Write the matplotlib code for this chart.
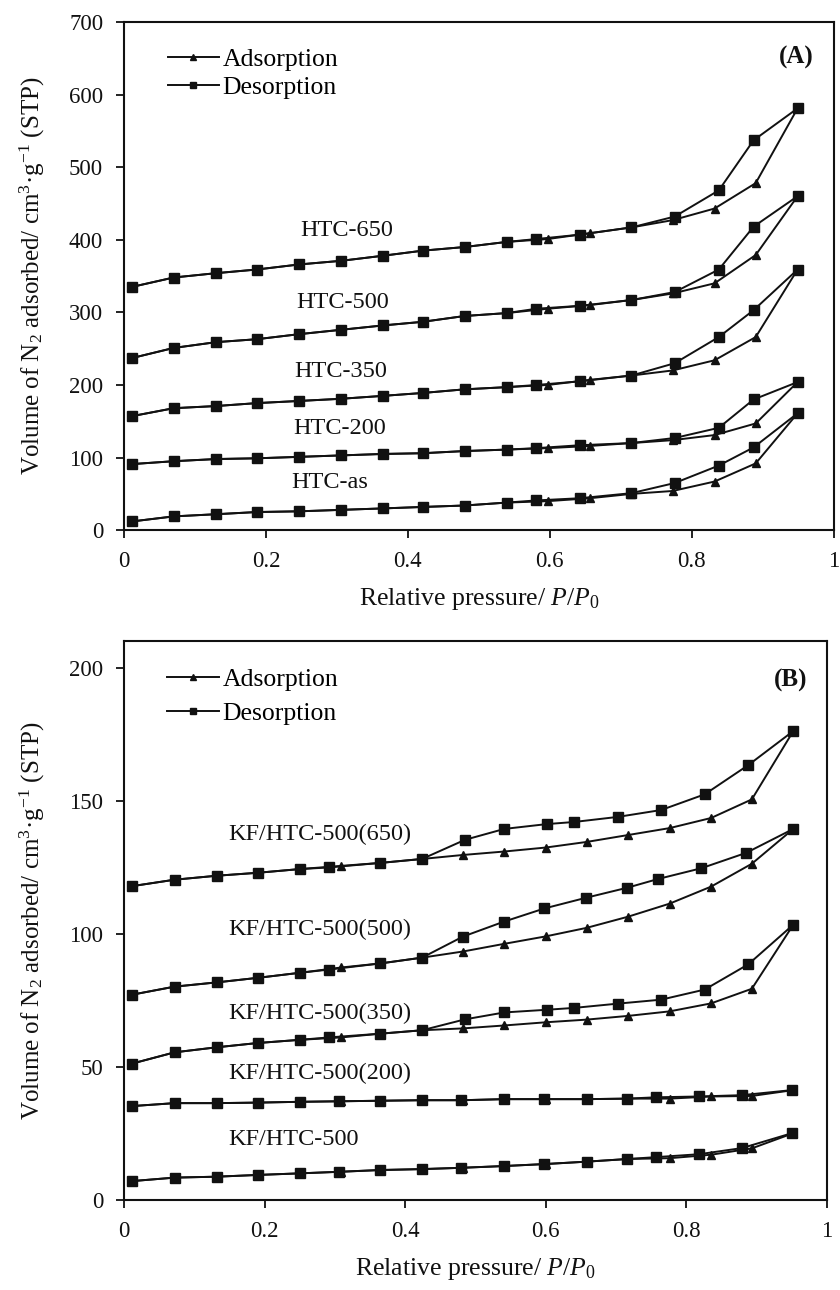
import matplotlib
matplotlib.use("Agg")
from matplotlib import pyplot as plt

plt.rcParams['font.family'] = ['Liberation Serif', 'DejaVu Serif']
plt.rcParams['mathtext.fontset'] = 'custom'
plt.rcParams['mathtext.rm'] = 'Liberation Serif'
plt.rcParams['mathtext.it'] = 'Liberation Serif:italic'

# ---- Panel A data (HTC samples) ----
p_ads_A = [0.011, 0.07, 0.13, 0.187, 0.247, 0.306, 0.365, 0.421, 0.48, 0.539,
           0.597, 0.656, 0.715, 0.773, 0.832, 0.89, 0.949]
p_des_A = [0.949, 0.887, 0.838, 0.776, 0.715, 0.642, 0.581, 0.539, 0.48, 0.421,
           0.365, 0.306, 0.247, 0.187, 0.13, 0.07, 0.011]

htc_as_ads = [12, 19, 22, 25, 26, 28, 30, 32, 34, 38, 40, 44, 50, 54, 67, 92, 161]
htc_as_des = [161, 114, 89, 65, 51, 44, 41, 38, 34, 32, 30, 28, 26, 25, 22, 19, 12]
htc200_ads = [91, 95, 98, 99, 101, 103, 105, 106, 109, 111, 113, 116, 120, 124, 131, 147, 204]
htc200_des = [204, 180, 141, 127, 120, 117, 113, 111, 109, 106, 105, 103, 101, 99, 98, 95, 91]
htc350_ads = [157, 168, 171, 175, 178, 181, 185, 189, 194, 197, 200, 207, 213, 220, 234, 266, 359]
htc350_des = [359, 303, 266, 230, 213, 205, 200, 197, 194, 189, 185, 181, 178, 175, 171, 168, 157]
htc500_ads = [237, 251, 259, 263, 270, 276, 282, 287, 295, 299, 305, 310, 317, 326, 340, 379, 460]
htc500_des = [460, 418, 359, 328, 317, 309, 305, 299, 295, 287, 282, 276, 270, 263, 259, 251, 237]
htc650_ads = [335, 348, 354, 359, 366, 371, 378, 385, 390, 397, 401, 409, 417, 427, 443, 478, 581]
htc650_des = [581, 537, 468, 432, 417, 407, 401, 397, 390, 385, 378, 371, 366, 359, 354, 348, 335]

labels_A = ['HTC-as', 'HTC-200', 'HTC-350', 'HTC-500', 'HTC-650']
label_pos_A = [(0.235, 65), (0.238, 140), (0.240, 219), (0.243, 313), (0.248, 413)]

# ---- Panel B data (KF/HTC-500 samples) ----
p_ads_B = [0.012, 0.072, 0.132, 0.19, 0.25, 0.309, 0.364, 0.424, 0.482, 0.541,
           0.6, 0.658, 0.717, 0.776, 0.835, 0.893, 0.952]
p_des_B1 = [0.952, 0.888, 0.826, 0.764, 0.702, 0.64, 0.601, 0.541, 0.485, 0.424,
            0.364, 0.291, 0.25, 0.19, 0.132, 0.072, 0.012]
p_des_B2 = [0.952, 0.885, 0.821, 0.76, 0.716, 0.657, 0.598, 0.54, 0.482, 0.424,
            0.364, 0.291, 0.25, 0.19, 0.132, 0.072, 0.012]
p_des_B3 = [0.95, 0.879, 0.818, 0.757, 0.716, 0.658, 0.598, 0.54, 0.48, 0.424,
            0.364, 0.306, 0.25, 0.19, 0.132, 0.072, 0.012]

kf_ads = [7.1, 8.4, 8.75, 9.4, 10, 10.6, 11.25, 11.6, 12.1, 12.75, 13.5, 14.4, 15.4, 15.7, 17, 19.4, 25.1]
kf_des = [25.1, 19.5, 17.2, 16.1, 15.4, 14.4, 13.5, 12.75, 12.1, 11.6, 11.25, 10.6, 10, 9.4, 8.75, 8.4, 7.1]
kf200_ads = [35.3, 36.4, 36.4, 36.6, 36.9, 37.1, 37.3, 37.5, 37.5, 37.9, 37.9, 37.9, 38.1, 38.1, 38.9, 39.1, 41.3]
kf200_des = [41.3, 39.4, 38.9, 38.6, 38.1, 37.9, 37.9, 37.9, 37.5, 37.5, 37.3, 37.1, 36.9, 36.6, 36.4, 36.4, 35.3]
kf350_ads = [51.3, 55.5, 57.4, 59, 60.2, 61.1, 62.5, 63.8, 64.5, 65.6, 66.8, 67.8, 69.2, 70.9, 73.9, 79.4, 103.5]
kf350_des = [103.5, 88.6, 79.1, 75.3, 73.8, 72.2, 71.5, 70.5, 67.9, 63.8, 62.5, 61.1, 60.2, 59, 57.4, 55.5, 51.3]
kf500_ads = [77.2, 80.2, 81.8, 83.5, 85.4, 87.4, 88.9, 91.1, 93.4, 96.3, 99.1, 102.3, 106.5, 111.4, 117.8, 126.4, 139.5]
kf500_des = [139.5, 130.5, 124.7, 120.7, 117.4, 113.6, 109.6, 104.6, 99, 91.1, 88.9, 86.6, 85.4, 83.5, 81.8, 80.2, 77.2]
kf650_ads = [118, 120.4, 121.9, 123, 124.4, 125.6, 126.7, 128.2, 129.7, 131, 132.5, 134.6, 137.2, 139.8, 143.6, 150.6, 176.3]
kf650_des = [176.3, 163.5, 152.5, 146.6, 144, 142.1, 141.3, 139.5, 135.4, 128.2, 126.7, 125, 124.4, 123, 121.9, 120.4, 118]

labels_B = ['KF/HTC-500', 'KF/HTC-500(200)', 'KF/HTC-500(350)', 'KF/HTC-500(500)', 'KF/HTC-500(650)']
label_pos_B = [(0.148, 22.9), (0.148, 47.6), (0.148, 70), (0.148, 101.6), (0.148, 137.6)]

xticks = [0, 0.2, 0.4, 0.6, 0.8, 1]
xticklabels = ['0', '0.2', '0.4', '0.6', '0.8', '1']

ink = '#111111'
fig = plt.figure(figsize=(8.4, 12.9), dpi=100)
axA = fig.add_axes([0.1476, 0.589, 0.845, 0.394])
axB = fig.add_axes([0.1476, 0.0698, 0.837, 0.433])


def draw_panel(ax, series, label_texts, label_pos, ylim, yticks, tag, legend_spacing, legend_y):
    for px_a, ya, px_d, yd in series:
        ax.plot(px_a, ya, '-', marker='^', color=ink, lw=1.4, ms=6, label='Adsorption')
        ax.plot(px_d, yd, '-', marker='s', color=ink, lw=1.4, ms=6.5, label='Desorption')
    for txt, (x, y) in zip(label_texts, label_pos):
        ax.text(x, y, txt, fontsize=17.5, color=ink, ha='left', va='center')
    ax.set_xlim(0, 1)
    ax.set_ylim(*ylim)
    ax.set_xticks(xticks)
    ax.set_xticklabels(xticklabels)
    ax.set_yticks(yticks)
    ax.tick_params(direction='out', length=6, width=1.3, labelsize=16.5, colors=ink, pad=9)
    for s in ax.spines.values():
        s.set_linewidth(1.5)
        s.set_color(ink)
    ax.set_xlabel('Relative pressure/ $P$/$P_{0}$', fontsize=18.5, color=ink, labelpad=10)
    ax.set_ylabel('Volume of N$_2$ adsorbed/ cm$^3$·g$^{-1}$ (STP)', fontsize=18, color=ink, labelpad=16)
    h, l = ax.get_legend_handles_labels()
    ax.legend(h[:2], l[:2], loc='upper left', bbox_to_anchor=(0.036, legend_y), frameon=False,
              fontsize=18.5, handlelength=2.0, handletextpad=0.15, labelspacing=legend_spacing,
              markerscale=0.7, borderpad=0.2)
    ax.text(0.972, 0.93, tag, transform=ax.transAxes, fontsize=18, fontweight='bold',
            ha='right', va='center', color=ink)


series_A = [(p_ads_A, htc_as_ads, p_des_A, htc_as_des),
            (p_ads_A, htc200_ads, p_des_A, htc200_des),
            (p_ads_A, htc350_ads, p_des_A, htc350_des),
            (p_ads_A, htc500_ads, p_des_A, htc500_des),
            (p_ads_A, htc650_ads, p_des_A, htc650_des)]
series_B = [(p_ads_B, kf_ads, p_des_B3, kf_des),
            (p_ads_B, kf200_ads, p_des_B3, kf200_des),
            (p_ads_B, kf350_ads, p_des_B1, kf350_des),
            (p_ads_B, kf500_ads, p_des_B2, kf500_des),
            (p_ads_B, kf650_ads, p_des_B1, kf650_des)]

draw_panel(axA, series_A, labels_A, label_pos_A, (0, 700), range(0, 701, 100), '(A)', 0.2, 0.985)
draw_panel(axB, series_B, labels_B, label_pos_B, (0, 210), range(0, 201, 50), '(B)', 0.45, 0.985)

fig.savefig('out.png', dpi=100)
